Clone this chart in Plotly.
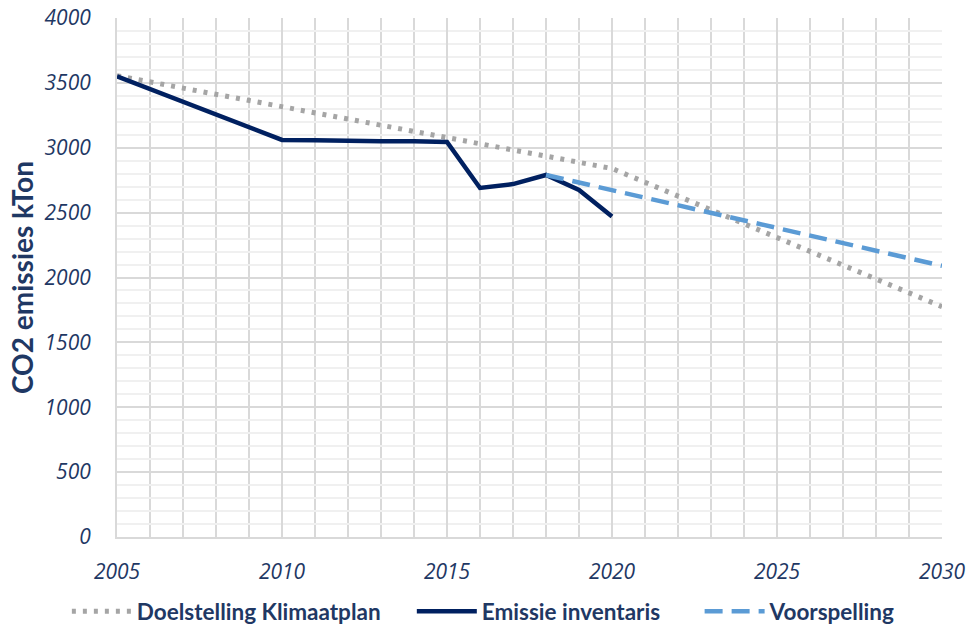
import plotly.graph_objects as go

years_doel = list(range(2005, 2031))
doelstelling = [3555, 3507, 3460, 3412, 3364, 3317, 3269, 3221, 3174, 3126,
                3078, 3031, 2983, 2935, 2888, 2840, 2734, 2627, 2521, 2414,
                2308, 2201, 2095, 1988, 1882, 1775]

years_emis = list(range(2005, 2021))
emissie = [3550, 3452, 3354, 3256, 3158, 3060, 3058, 3052, 3050, 3050,
           3045, 2690, 2720, 2790, 2675, 2470]

years_voor = list(range(2018, 2031))
voorspelling = [2790, 2732, 2673, 2615, 2557, 2498, 2440, 2382, 2323, 2265,
                2207, 2148, 2090]

navy = "#1F3864"
tick_font = "'Open Sans', sans-serif"
bold_font = "Lato, sans-serif"

fig = go.Figure()
fig.add_trace(go.Scatter(x=years_doel, y=doelstelling, mode="lines",
                         name="Doelstelling Klimaatplan", legend="legend",
                         line=dict(color="#A5A5A5", width=5, dash="4px,7px")))
fig.add_trace(go.Scatter(x=years_emis, y=emissie, mode="lines",
                         name="Emissie inventaris", legend="legend2",
                         line=dict(color="#002060", width=4.5)))
fig.add_trace(go.Scatter(x=years_voor, y=voorspelling, mode="lines",
                         name="Voorspelling", legend="legend3",
                         line=dict(color="#5B9BD5", width=4.5, dash="18px,9px")))

def legend_style(xpos):
    return dict(orientation="h", xref="container", yref="container",
                x=xpos, xanchor="left", y=0.026, yanchor="middle",
                font=dict(size=22.5, color=navy, family=bold_font, weight="bold"),
                itemwidth=60, bgcolor="rgba(0,0,0,0)")

fig.update_layout(
    width=969, height=628,
    margin=dict(l=117, r=27, t=18, b=91, autoexpand=False),
    paper_bgcolor="white", plot_bgcolor="white",
    font=dict(family=tick_font, color=navy),
    showlegend=True,
    legend=legend_style(0.069),
    legend2=legend_style(0.425),
    legend3=legend_style(0.722),
    xaxis=dict(range=[2005, 2030], dtick=5, tick0=2005, automargin=False,
               showgrid=True, gridcolor="#D9D9D9", gridwidth=2,
               minor=dict(dtick=1, showgrid=True, gridcolor="#D9D9D9", gridwidth=2),
               showline=True, linecolor="#D9D9D9", linewidth=2,
               zeroline=False, ticks="", ticklabelstandoff=15,
               tickfont=dict(size=21, color=navy, style="italic", family=tick_font),
               fixedrange=True),
    yaxis=dict(range=[0, 4000], dtick=500, automargin=False,
               showgrid=True, gridcolor="#D9D9D9", gridwidth=2,
               minor=dict(dtick=100, showgrid=True, gridcolor="#F0F0F0", gridwidth=2),
               showline=True, linecolor="#D9D9D9", linewidth=2,
               zeroline=False, ticks="", ticklabelstandoff=20,
               tickfont=dict(size=21, color=navy, style="italic", family=tick_font),
               title=dict(text="CO2 emissies kTon", standoff=3,
                          font=dict(size=28, color=navy, weight="bold", family=bold_font)),
               fixedrange=True),
)

# remove the browser's default 8px body margin so the figure fills the window
fig.write_html("out.html", config={"displayModeBar": False},
               post_script="document.body.style.margin='0';document.body.style.overflow='hidden';")
